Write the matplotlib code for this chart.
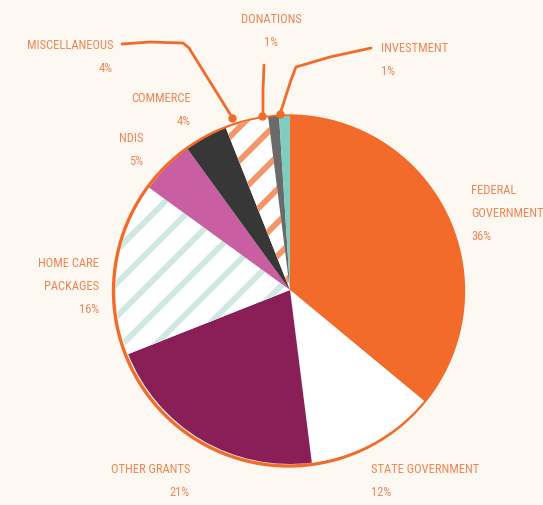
import matplotlib
matplotlib.use("Agg")
import matplotlib.pyplot as plt
from matplotlib import font_manager
from matplotlib.patches import Circle

# data, clockwise from 12 o'clock
labels = ["FEDERAL\nGOVERNMENT", "STATE GOVERNMENT", "OTHER GRANTS", "HOME CARE\nPACKAGES",
          "NDIS", "COMMERCE", "MISCELLANEOUS", "DONATIONS", "INVESTMENT"]
shares = [36, 12, 21, 16, 5, 4, 4, 1, 1]
colors = ["#F26B2A", "#FFFFFF", "#8A1E57", "#FFFFFF", "#C95FA2",
          "#373737", "#FFFFFF", "#6A6A6A", "#7FCDBE"]
hatch_colors = {3: "#CFE9E2", 6: "#F7956A"}

BG = "#FEF8F2"
ORANGE = "#F26B2A"
TEXT = "#F28552"
W, H = 543, 505
LINE_GAP_PX = 23


def find_narrow():
    """Return (path, size) of the narrowest upright regular face available."""
    faces = [f for f in font_manager.fontManager.ttflist
             if f.style == "normal" and f.weight in (400, "normal", "regular")]
    prefs = [("Liberation Sans Narrow", 9.6), ("Roboto Condensed", 9.0),
             ("Open Sans Condensed", 8.8), ("Noto Sans Condensed", 8.8),
             ("DejaVu Sans Condensed", 8.0)]
    for name, size in prefs:
        for f in faces:
            if f.name == name:
                return f.fname, size
    for f in faces:
        if f.name == "DejaVu Sans" and f.stretch in ("condensed", 75, "semi-condensed"):
            return f.fname, 8.0
    return None, 7.6


plt.rcParams["hatch.linewidth"] = 4.2
path, size = find_narrow()
if path:
    font = dict(fontproperties=font_manager.FontProperties(fname=path, size=size))
else:
    font = dict(family="DejaVu Sans", fontsize=size)
font.update(color=TEXT, linespacing=LINE_GAP_PX / (1.272 * size))

fig = plt.figure(figsize=(W / 100, H / 100), dpi=100)
fig.patch.set_facecolor(BG)
ax = fig.add_axes([0, 0, 1, 1])
ax.set_facecolor(BG)


def py(y):
    # pixel row (top-down) to axis y
    return H - y


# orange ring behind the pie
ax.add_patch(Circle((288.5, py(291)), 175, fill=False, ec=ORANGE, lw=2.4, zorder=1))

wedges, _ = ax.pie(shares, colors=colors, startangle=90, counterclock=False,
                   center=(290, py(290)), radius=174, frame=True,
                   wedgeprops=dict(lw=0, zorder=2))
for i, hc in hatch_colors.items():
    wedges[i].set_hatch("/")
    wedges[i].set_edgecolor(hc)
    wedges[i].set_linewidth(0)
ax.set_xlim(0, W)
ax.set_ylim(0, H)
ax.set_aspect("equal")
ax.axis("off")

# labels: (x, y of first line, ha)
label_pos = [(471, 184, "left"), (371, 463, "left"), (190, 463, "right"),
             (99, 257, "right"), (143, 132, "right"), (191, 92, "right"),
             (113, 39, "right"), (271, 13, "center"), (381, 42, "left")]
for lab, v, (x, y, ha) in zip(labels, shares, label_pos):
    ax.text(x, py(y), f"{lab}\n{v}%", ha=ha, va="top", multialignment=ha, **font)

# leader lines for the small slices
leaders = [
    ([122, 150, 183, 189, 230], [44, 42, 43, 48, 114], (232, 118)),
    ([264, 263, 263], [65, 90, 113], (262, 116)),
    ([371, 330, 296, 291, 281], [48, 57, 67, 80, 111], (280, 114)),
]
for xs, ys, dot in leaders:
    ax.plot(xs, [py(y) for y in ys], color=ORANGE, lw=2, solid_capstyle="round", zorder=3)
    ax.plot(dot[0], py(dot[1]), "o", color=ORANGE, ms=5, zorder=3)

fig.savefig("out.png", dpi=100, facecolor=BG)
